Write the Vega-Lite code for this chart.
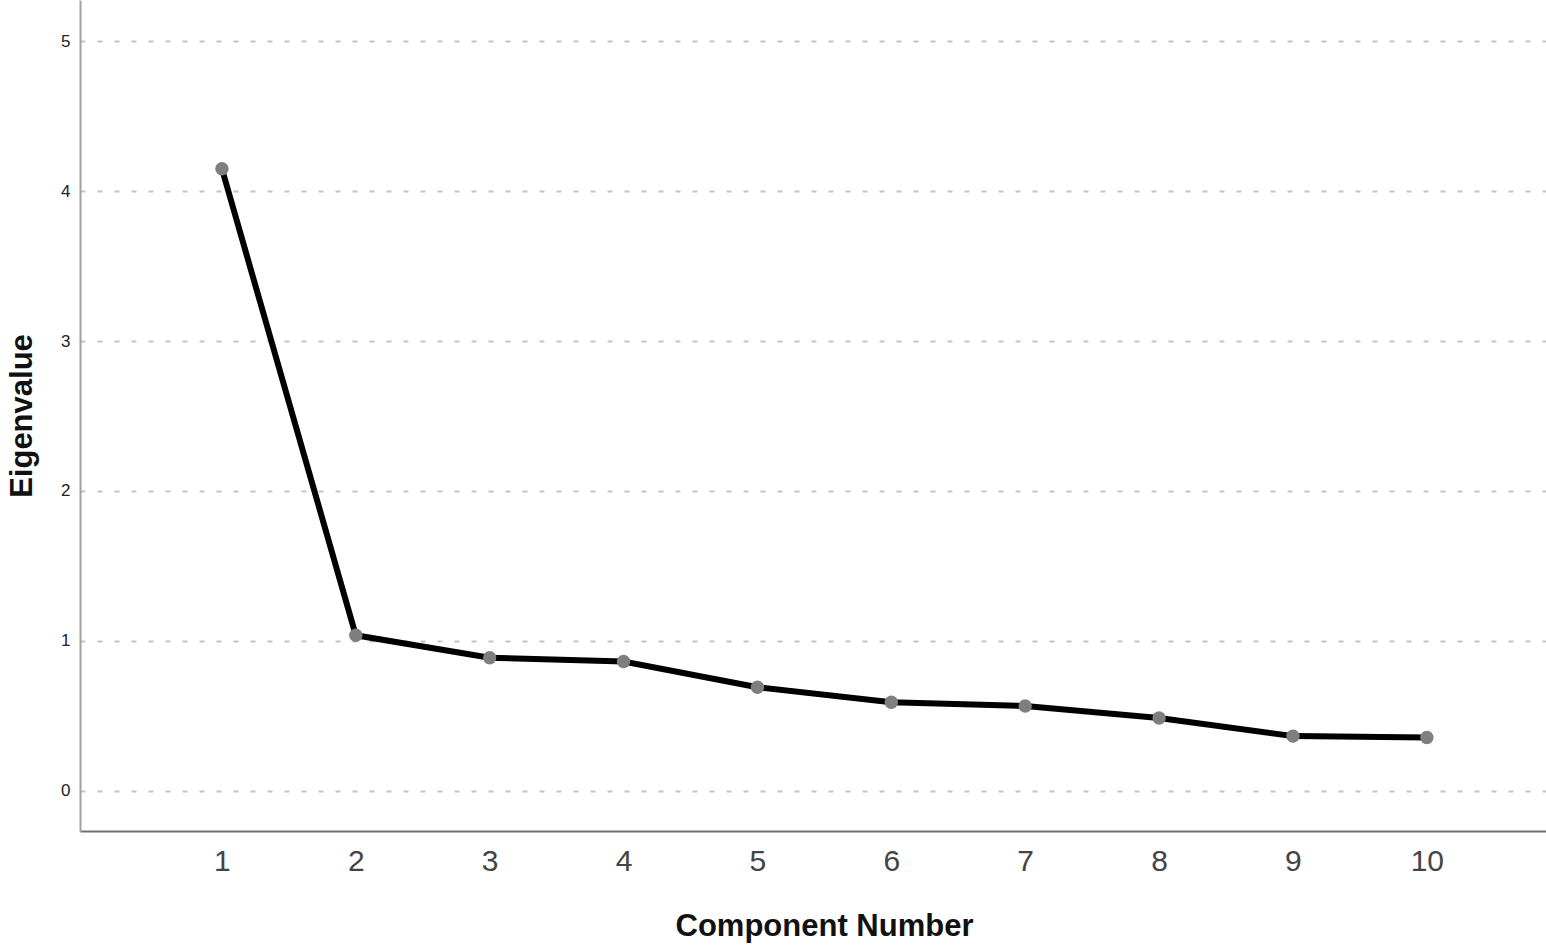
{
  "$schema": "https://vega.github.io/schema/vega-lite/v6.json",
  "description": "Scree plot of eigenvalues by component number.",
  "autosize": "none",
  "width": 1466,
  "height": 831,
  "padding": {"left": 80, "top": 0, "right": 0, "bottom": 115},
  "background": "white",
  "config": {
    "view": {"stroke": null},
    "font": "Liberation Sans"
  },
  "data": {
    "values": [
      {"Component": 1, "Eigenvalue": 4.149},
      {"Component": 2, "Eigenvalue": 1.037},
      {"Component": 3, "Eigenvalue": 0.887},
      {"Component": 4, "Eigenvalue": 0.862},
      {"Component": 5, "Eigenvalue": 0.69},
      {"Component": 6, "Eigenvalue": 0.59},
      {"Component": 7, "Eigenvalue": 0.565},
      {"Component": 8, "Eigenvalue": 0.485},
      {"Component": 9, "Eigenvalue": 0.364},
      {"Component": 10, "Eigenvalue": 0.355}
    ]
  },
  "encoding": {
    "x": {
      "field": "Component",
      "type": "quantitative",
      "title": "Component Number",
      "scale": {"domain": [-0.06, 10.89], "nice": false, "zero": false},
      "axis": {
        "values": [1, 2, 3, 4, 5, 6, 7, 8, 9, 10],
        "grid": false,
        "ticks": false,
        "domainColor": "#707070",
        "domainWidth": 2,
        "labelFont": "Liberation Sans",
        "labelFontSize": 30,
        "labelFontWeight": "normal",
        "labelColor": "#444444",
        "labelPadding": 15,
        "titleFont": "Liberation Sans",
        "titleFontSize": 31,
        "titleFontWeight": "bold",
        "titleColor": "#111111",
        "titlePadding": 35,
        "titleX": 744
      }
    },
    "y": {
      "field": "Eigenvalue",
      "type": "quantitative",
      "title": "Eigenvalue",
      "scale": {"domain": [-0.269, 5.275], "nice": false, "zero": false},
      "axis": {
        "values": [0, 1, 2, 3, 4, 5],
        "grid": true,
        "gridColor": "#c4c4c4",
        "gridWidth": 2,
        "gridDash": [5, 12],
        "ticks": false,
        "domainColor": "#a0a0a0",
        "domainWidth": 2,
        "labelFont": "Liberation Sans",
        "labelFontSize": 17,
        "labelColor": "#222222",
        "labelPadding": 10,
        "titleFont": "Liberation Sans",
        "titleFontSize": 31,
        "titleFontWeight": "bold",
        "titleColor": "#111111",
        "titlePadding": 22
      }
    }
  },
  "layer": [
    {"mark": {"type": "line", "color": "#000000", "strokeWidth": 6}},
    {"mark": {"type": "point", "filled": true, "shape": "circle", "color": "#7f7f7f", "opacity": 1, "size": 180}}
  ]
}
